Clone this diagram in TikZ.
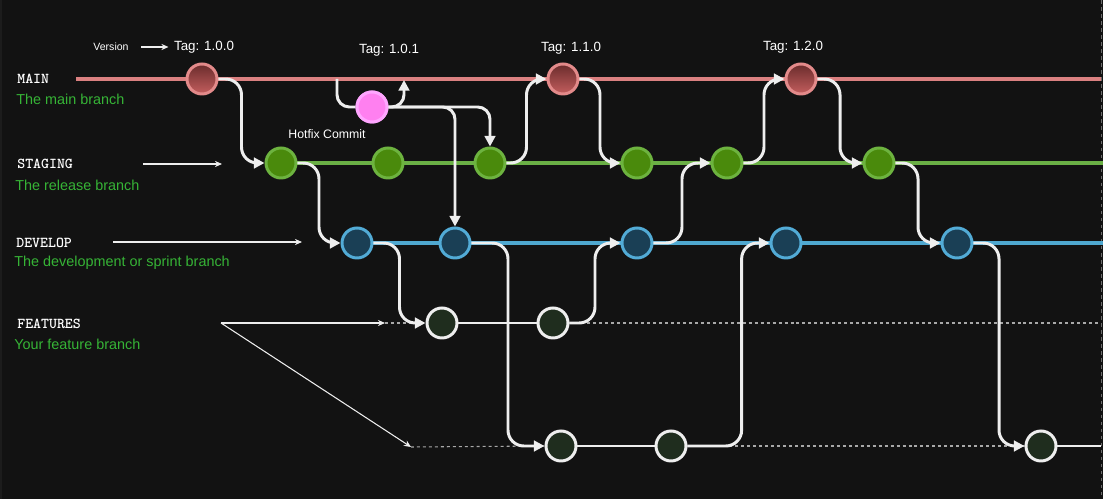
\documentclass[tikz,border=0pt]{standalone}
\usepackage{fontspec}
\setmainfont{Liberation Sans}
\usetikzlibrary{arrows.meta,calc}
\definecolor{bgc}{HTML}{121212}
\definecolor{edgec}{HTML}{1C1C1C}
\definecolor{mainln}{HTML}{DA8080}
\definecolor{maintop}{HTML}{6A2C2C}
\definecolor{mainbot}{HTML}{C45E5E}
\definecolor{mainbd}{HTML}{E38A8A}
\definecolor{stgln}{HTML}{6AAF45}
\definecolor{stgfill}{HTML}{4A8A0C}
\definecolor{stgbd}{HTML}{6DB33F}
\definecolor{devln}{HTML}{4FA8D0}
\definecolor{devfill}{HTML}{1A3F55}
\definecolor{devbd}{HTML}{52ABD6}
\definecolor{featfill}{HTML}{1F2D1E}
\definecolor{linkc}{HTML}{EEEEEE}
\definecolor{hffill}{HTML}{FF80F0}
\definecolor{hfbd}{HTML}{FFA6FF}
\definecolor{greentxt}{HTML}{36B436}
\definecolor{dashc}{HTML}{A8A8A8}

\begin{document}
\begin{tikzpicture}[x=0.02cm,y=-0.02cm,
  commit/.style={circle,minimum size=0.6cm,inner sep=0pt,line width=1.7pt},
  maincommit/.style={commit,draw=mainbd,top color=maintop,bottom color=mainbot},
  stgcommit/.style={commit,draw=stgbd,fill=stgfill},
  devcommit/.style={commit,draw=devbd,fill=devfill},
  featcommit/.style={commit,draw=linkc,fill=featfill},
  hfcommit/.style={commit,draw=hfbd,fill=hffill},
  flow/.style={draw=linkc,line width=1.7pt,rounded corners=9pt,-{Triangle[length=6pt,width=6pt]}},
  pointer/.style={draw=linkc,line width=0.6pt,-{Stealth[length=4pt,width=3.5pt]}},
  dashln/.style={draw=dashc,line width=0.6pt,dash pattern=on 1.7pt off 1.7pt},
  branchname/.style={anchor=west,inner sep=0pt,text=white,font=\ttfamily\bfseries\fontsize{8.6}{10}\selectfont},
  branchnote/.style={anchor=west,inner sep=0pt,text=greentxt,font=\fontsize{8.2}{10}\selectfont},
  tag/.style={text=white,font=\fontsize{7.6}{9}\selectfont}]
% background
\path[fill=bgc,use as bounding box] (0,0) rectangle (1103,499);
\fill[edgec] (0,0) rectangle (2,499);
\draw[dashc!60!bgc,line width=0.6pt,dash pattern=on 2pt off 2pt] (1101.5,0) -- (1101.5,499);

% branch names
\node[branchname] (lmain) at (17,79) {MAIN};
\node[branchnote] (nmain) at (16,99) {The main branch};
\node[branchname] (lstg) at (17,164) {STAGING};
\node[branchnote] (nstg) at (15,185) {The release branch};
\node[branchname] (ldev) at (16,243) {DEVELOP};
\node[branchnote] (ndev) at (14,263) {The development or sprint branch};
\node[branchname] (lfeat) at (17,324) {FEATURES};
\node[branchnote] (nfeat) at (14,344) {Your feature branch};

% branch lines
\coordinate (mainstart) at (76,79);
\coordinate (mainend) at (1101,79);
\coordinate (stgend) at (1103,163);
\coordinate (devend) at (1103,243);
\coordinate (fstart) at (385,323);
\coordinate (fend) at (1101,323);
\coordinate (gstart) at (411,447);
\coordinate (gend) at (1101,446);
\draw[mainln,line width=2pt] (mainstart) -- (mainend);
\draw[stgln,line width=1.9pt] (281,163) -- (stgend);
\draw[devln,line width=1.9pt] (357,243) -- (devend);

% commits
\node[maincommit] (m1) at (202,79) {};
\node[maincommit] (m2) at (563,79) {};
\node[maincommit] (m3) at (801,79) {};
\node[hfcommit] (hf) at (372,107) {};
\foreach \n/\x in {s1/281,s2/388,s3/490,s4/637,s5/727,s6/879}
  \node[stgcommit] (\n) at (\x,163) {};
\foreach \n/\x in {d1/357,d2/455,d3/637,d4/786,d5/957}
  \node[devcommit] (\n) at (\x,243) {};
\node[featcommit] (f1) at (442,323) {};
\node[featcommit] (f2) at (553,323) {};
\node[featcommit] (g1) at (561,446) {};
\node[featcommit] (g2) at (671,446) {};
\node[featcommit] (g3) at (1041,446) {};

% feature lines
\draw[dashln] (fstart) -- (f1.west);
\draw[dashln] (f2.east) -- (fend);
\draw[dashln] (gstart) -- (g1.west);
\draw[dashln] (g2.east) -- (g3.west);
\draw[linkc,line width=1.7pt] (f1) -- (f2);
\draw[linkc,line width=1.7pt] (g1) -- (g2);
\draw[linkc,line width=1.7pt] (g3.east) -- (gend);

% merges
\foreach \a/\b/\r in {m1/s1/.5,s1/d1/.5,d1/f1/.5,d2/g1/.5,f2/d3/.5,s3/m2/.5,m2/s4/.5,d3/s5/.5,s5/m3/.5,m3/s6/.5,s6/d5/.5,g2/d4/.66,d5/g3/.5}
  \draw[flow] (\a.east) -| ($(\a.east)!\r!(\b.west)$) |- (\b.west);

% hotfix
\coordinate (hfa) at (337,79);
\coordinate (hfb) at (404,80);
\draw[linkc,line width=1.7pt,rounded corners=7pt] (hfa) |- (hf.west);
\draw[flow,rounded corners=7pt] (hf.east) -| (hfb);
\draw[flow,rounded corners=7pt] (hf.east) -| (s3.north);
\draw[flow,rounded corners=7pt] (hf.east) -| (d2.north);
\node[hfcommit] at (hf) {};
\node[tag,font=\fontsize{7}{8}\selectfont] (hflabel) at (327,134) {Hotfix Commit};

% tags
\node[tag,font=\fontsize{6}{7}\selectfont,inner sep=0pt] (ver) at (111,47) {Version};
\node[tag,inner sep=0pt] (t100) at (204,47) {Tag: 1.0.0};
\draw[pointer,shorten <=7pt,shorten >=3pt] (ver.east) -- (t100.west);
\node[tag] (t101) at (389,50) {Tag: 1.0.1};
\node[tag] (t110) at (571,48) {Tag: 1.1.0};
\node[tag] (t120) at (793,47) {Tag: 1.2.0};

% pointers
\coordinate (pstg) at (143,164);
\coordinate (pdev) at (113,242);
\coordinate (pfeat) at (221,323);
\draw[pointer] (pstg) -- (222,164);
\draw[pointer] (pdev) -- (302,242);
\draw[pointer] (pfeat) -- (fstart);
\draw[pointer] (pfeat) -- (gstart);
\end{tikzpicture}
\end{document}
